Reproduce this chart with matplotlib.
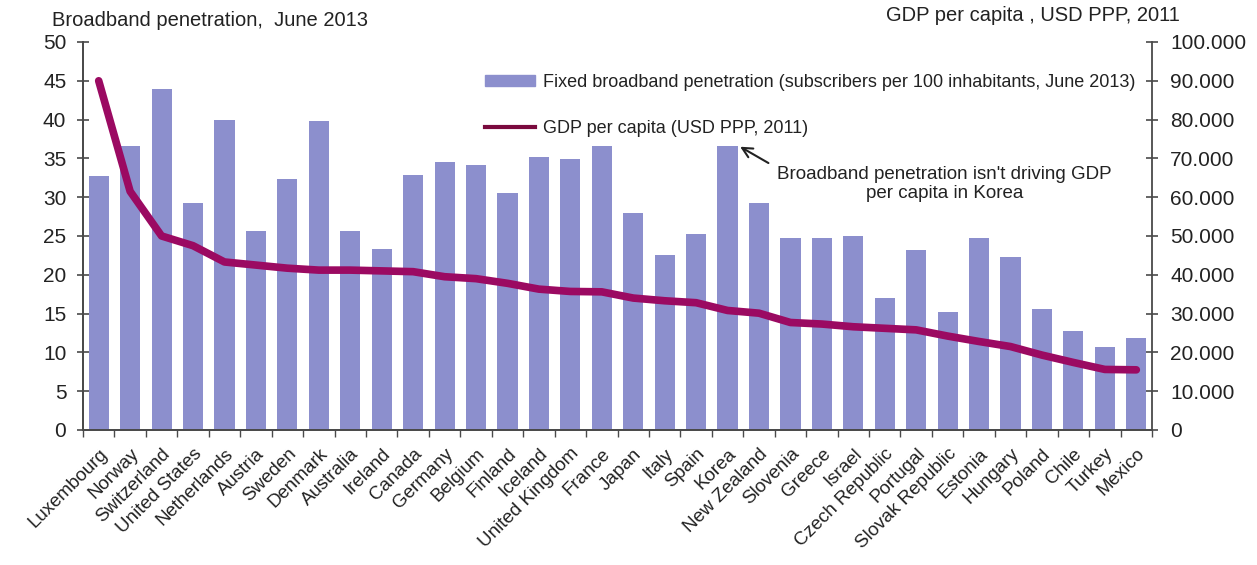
import matplotlib.pyplot as plt
import numpy as np
from matplotlib.ticker import FuncFormatter, MultipleLocator
from matplotlib.lines import Line2D

plt.rcParams['font.family'] = ['Liberation Sans', 'DejaVu Sans']

countries = ["Luxembourg", "Norway", "Switzerland", "United States", "Netherlands",
             "Austria", "Sweden", "Denmark", "Australia", "Ireland", "Canada",
             "Germany", "Belgium", "Finland", "Iceland", "United Kingdom", "France",
             "Japan", "Italy", "Spain", "Korea", "New Zealand", "Slovenia", "Greece",
             "Israel", "Czech Republic", "Portugal", "Slovak Republic", "Estonia",
             "Hungary", "Poland", "Chile", "Turkey", "Mexico"]

# fixed broadband subscribers per 100 inhabitants, June 2013
broadband = [32.7, 36.6, 44.0, 29.2, 40.0, 25.6, 32.3, 39.8, 25.6, 23.3, 32.8,
             34.5, 34.1, 30.6, 35.2, 34.9, 36.6, 28.0, 22.5, 25.3, 36.6, 29.3,
             24.8, 24.8, 25.0, 17.0, 23.2, 15.2, 24.8, 22.3, 15.6, 12.7, 10.7, 11.9]

# GDP per capita, USD PPP, 2011
gdp = [90000, 61500, 50000, 47500, 43300, 42500, 41700, 41200, 41200, 41000, 40800,
       39500, 39000, 37800, 36300, 35700, 35600, 34000, 33300, 32800, 30800, 30100,
       27700, 27300, 26600, 26200, 25800, 24200, 22800, 21500, 19300, 17400, 15600, 15500]

bar_color = "#8c8fcd"
line_color = "#9b0a62"
axis_color = "#4a4a4a"
text_color = "#222222"

fig = plt.figure(figsize=(12.57, 5.65), dpi=100)
ax = fig.add_axes([0.066, 0.239, 0.8505, 0.6867])
ax2 = ax.twinx()

x = np.arange(len(countries))
bars = ax.bar(x, broadband, width=0.64, color=bar_color, zorder=2)
ax2.plot(x, gdp, color=line_color, lw=5.5, solid_joinstyle="round", solid_capstyle="round")

ax.set_xlim(-0.5, len(countries) - 0.5)
ax.set_ylim(0, 50)
ax2.set_ylim(0, 100000)
ax.yaxis.set_major_locator(MultipleLocator(5))
ax2.yaxis.set_major_locator(MultipleLocator(10000))
ax2.yaxis.set_major_formatter(FuncFormatter(
    lambda v, p: "0" if v == 0 else "{:,.0f}".format(v).replace(",", ".")))

ax.spines["top"].set_visible(False)
ax2.spines["top"].set_visible(False)
ax.spines["right"].set_visible(False)
for a in (ax, ax2):
    for s in ["left", "right", "bottom"]:
        a.spines[s].set_color(axis_color)
        a.spines[s].set_linewidth(1.3)

ax.tick_params(axis="y", direction="inout", length=8, width=1.2, color=axis_color,
               labelsize=15, labelcolor=text_color, pad=8)
ax2.tick_params(axis="y", direction="inout", length=8, width=1.2, color=axis_color,
                labelsize=15, labelcolor=text_color, pad=9)

# x ticks at category boundaries, labels at centres
ax.set_xticks(np.arange(len(countries) + 1) - 0.5)
ax.set_xticklabels([])
ax.tick_params(axis="x", which="major", direction="out", length=5, width=1.0, color=axis_color)
ax.set_xticks(x, minor=True)
ax.set_xticklabels(countries, minor=True, rotation=45, ha="right", va="top",
                   rotation_mode="anchor", fontsize=13.5, color=text_color)
ax.tick_params(axis="x", which="minor", length=0, pad=11)

fig.text(0.041, 0.963, "Broadband penetration,  June 2013", fontsize=14.5, color=text_color,
         ha="left", va="center")
fig.text(0.939, 0.972, "GDP per capita , USD PPP, 2011", fontsize=14.5, color=text_color,
         ha="right", va="center")

legend_handles = [
    plt.Rectangle((0, 0), 1, 1, color=bar_color),
    Line2D([], [], color="#7a0a3e", lw=3),
]
legend_labels = ["Fixed broadband penetration (subscribers per 100 inhabitants, June 2013)",
                 "GDP per capita (USD PPP, 2011)"]
leg = ax.legend(legend_handles, legend_labels, loc="upper right",
                bbox_to_anchor=(0.984, 0.918), frameon=False, fontsize=13,
                labelspacing=1.6, handlelength=2.8, handletextpad=0.4,
                handleheight=0.55, borderaxespad=0, borderpad=0)
for t in leg.get_texts():
    t.set_color(text_color)
leg._legend_box.align = "left"

ax.annotate("", xy=(20.4, 36.5), xytext=(21.3, 34.4),
            arrowprops=dict(arrowstyle="->", color=text_color, lw=1.5,
                            shrinkA=0, shrinkB=0, mutation_scale=18),
            zorder=5)
ax.text(26.9, 31.7, "Broadband penetration isn't driving GDP\nper capita in Korea",
        ha="center", va="center", fontsize=13.5, color=text_color, linespacing=1.1)

fig.savefig("out.png", dpi=100)
